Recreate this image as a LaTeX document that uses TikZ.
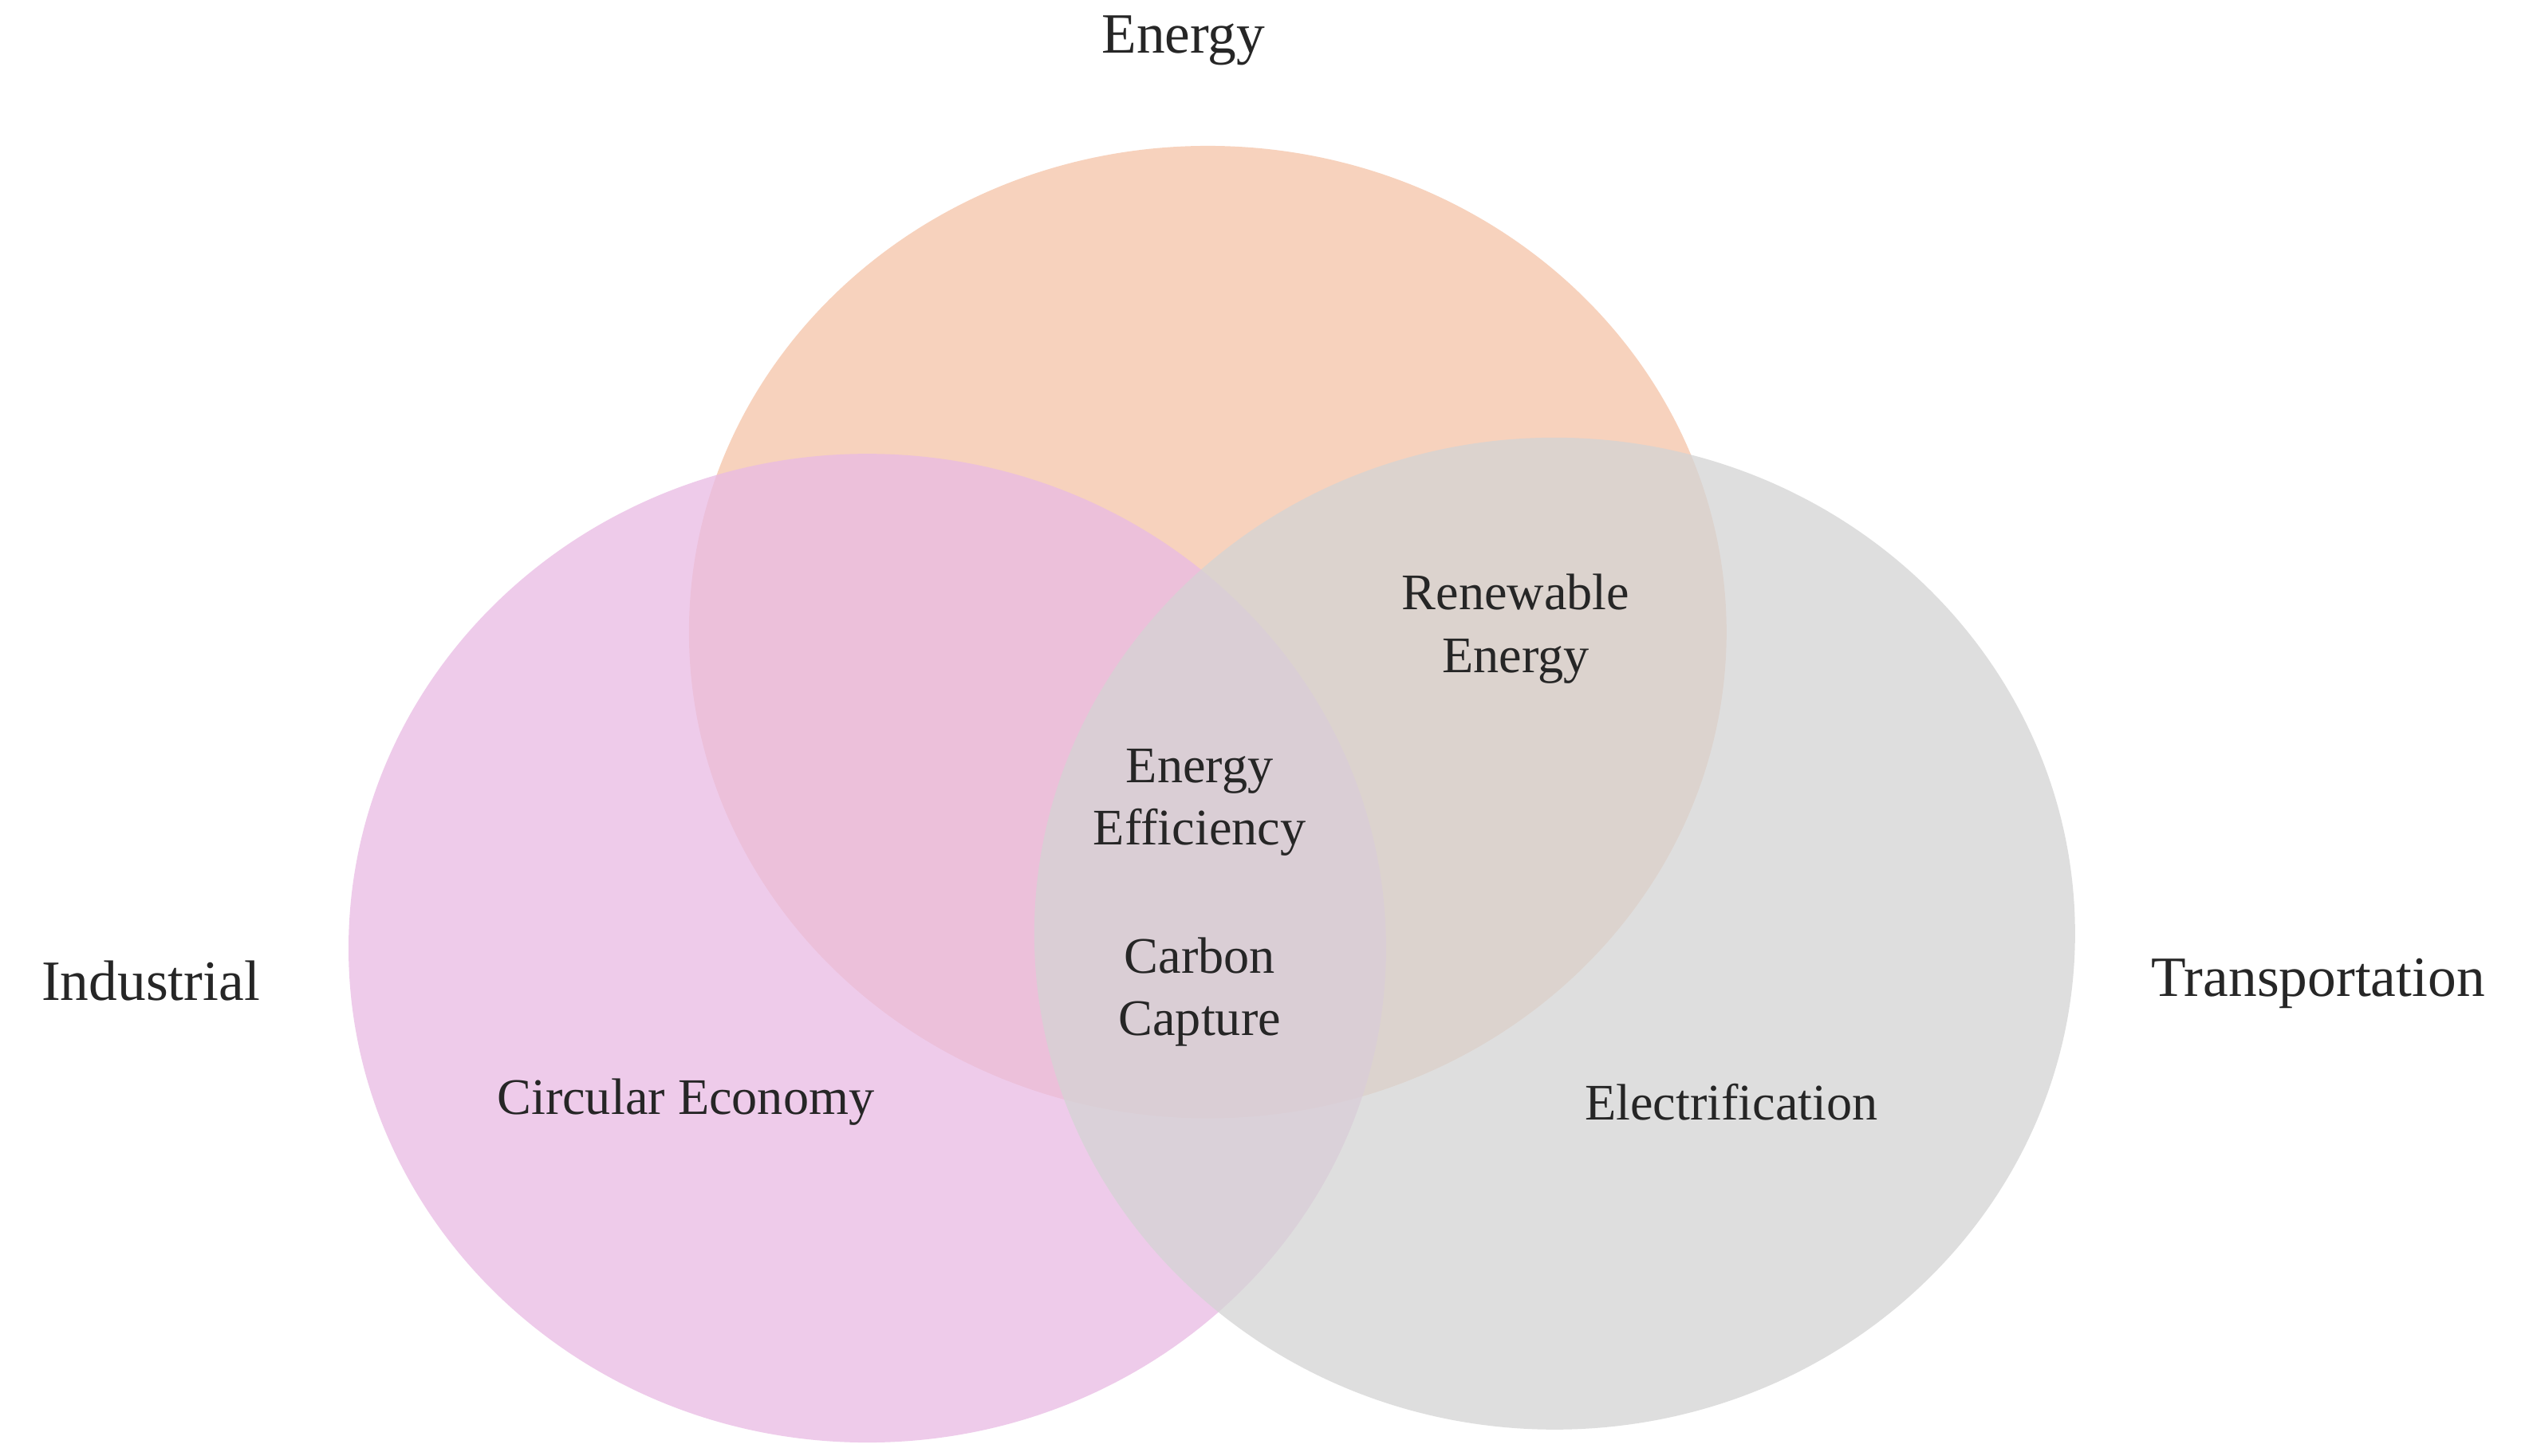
\documentclass[tikz,border=0pt]{standalone}
\usepackage{fontspec}
\setmainfont{Liberation Serif}
\begin{document}
\begin{tikzpicture}[x=0.02cm,y=-0.02cm,
 lab/.style={font=\fontsize{18}{22}\selectfont,align=center,text=black!85},
 big/.style={font=\fontsize{20}{24}\selectfont,text=black!85}]
\useasboundingbox (0,0) rectangle (1560,898);
\fill[fill=white] (0,0) rectangle (1560,898);
\definecolor{ce}{HTML}{F5C4A8}
\definecolor{ci}{HTML}{E9BAE4}
\definecolor{ct}{HTML}{D4D4D4}
\fill[ce,fill opacity=0.75] (745,390) ellipse [x radius=320,y radius=300] coordinate (en);
\fill[ci,fill opacity=0.75] (535,585) ellipse [x radius=320,y radius=305];
\fill[ct,fill opacity=0.75] (959,576) ellipse [x radius=321,y radius=306];
\node[big] (e) at (730,25) {Energy};
\node[big] (i) at (93,605) {Industrial};
\node[big] (t) at (1430,607) {Transportation};
\node[lab] (re) at (935,388) {Renewable\\Energy};
\node[lab] (ee) at (740,495) {Energy\\Efficiency};
\node[lab] (cc) at (740,612) {Carbon\\Capture};
\node[lab] (ce2) at (423,680) {Circular Economy};
\node[lab] (el) at (1068,680) {Electrification};
\end{tikzpicture}
\end{document}
